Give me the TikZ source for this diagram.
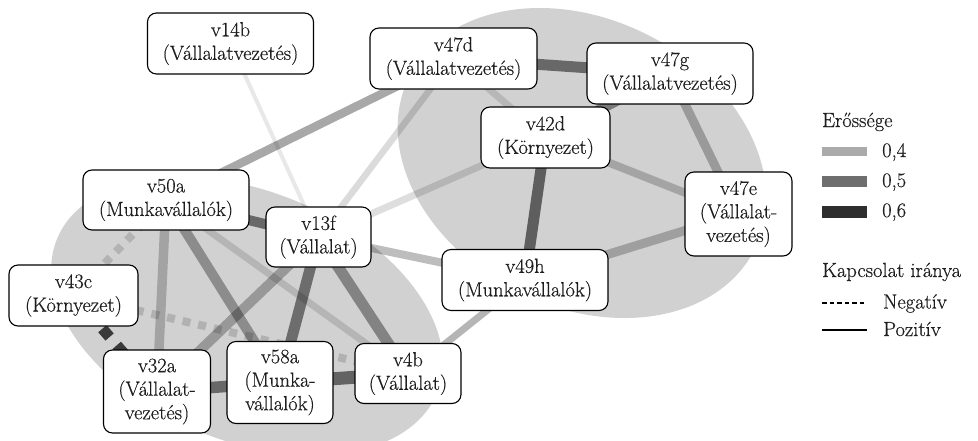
\documentclass[tikz,border=0pt]{standalone}
\usepackage{fontspec}
\newfontfamily\lblfont{Latin Modern Roman}[FakeBold=0.45]
\pgfdeclarelayer{blobs}
\pgfdeclarelayer{links}
\pgfsetlayers{blobs,links,main}
\definecolor{blobgray}{gray}{0.82}
\definecolor{leg4}{HTML}{AAAAAA}
\definecolor{leg5}{HTML}{6E6E6E}
\definecolor{leg6}{HTML}{2E2E2E}
\definecolor{inkc}{HTML}{1E1E1E}
\tikzset{
  txt/.style={font=\lblfont\fontsize{20.5}{23.5}\selectfont, text=inkc, inner sep=0pt},
  nd/.style={txt, draw=black, line width=1.1pt, fill=white, rounded corners=9pt, align=center},
  blob/.style={fill=blobgray},
  lnk/.style 2 args={draw=black, draw opacity=#2, line width=#1pt},
  lnkd/.style 2 args={draw=black, draw opacity=#2, line width=#1pt, dash pattern=on #1pt off #1pt},
  legtxt/.style={txt, anchor=base west}
}
\begin{document}
\begin{tikzpicture}[x=1pt,y=-1pt]
\useasboundingbox (0,0) rectangle (978,440);
\begin{pgfonlayer}{blobs}
\fill[white] (0,0) rectangle (978,440);
\fill[blob, shift={(247,316)}, rotate=-22] (0,0) ellipse [x radius=205pt, y radius=125pt];
\fill[blob, shift={(582,163)}, rotate=-26.5] (0,0) ellipse [x radius=193pt, y radius=144pt];
\end{pgfonlayer}

% nodes
\node[nd, minimum width=166, minimum height=61] (v14b) at (230.5,43.5) {v14b\\(Vállalatvezetés)};
\node[nd, minimum width=167, minimum height=61] (v47d) at (453.5,58.5) {v47d\\(Vállalatvezetés)};
\node[nd, minimum width=166, minimum height=61] (v47g) at (670,73.5) {v47g\\(Vállalatvezetés)};
\node[nd, minimum width=129, minimum height=61] (v42d) at (545.5,137.5) {v42d\\(Környezet)};
\node[nd, minimum width=107, minimum height=84] (v47e) at (738.5,214) {v47e\\(Vállalat-\\vezetés)};
\node[nd, minimum width=166, minimum height=61] (v49h) at (525,280) {v49h\\(Munkavállalók)};
\node[nd, minimum width=166, minimum height=60] (v50a) at (166,200) {v50a\\(Munkavállalók)};
\node[nd, minimum width=105, minimum height=60] (v13f) at (318.5,237) {v13f\\(Vállalat)};
\node[nd, minimum width=129, minimum height=61] (v43c) at (73.5,295.5) {v43c\\(Környezet)};
\node[nd, minimum width=107, minimum height=83] (v32a) at (157,391.5) {v32a\\(Vállalat-\\vezetés)};
\node[nd, minimum width=106, minimum height=82] (v58a) at (280,382.5) {v58a\\(Munka-\\vállalók)};
\node[nd, minimum width=106, minimum height=60] (v4b) at (408,373.5) {v4b\\(Vállalat)};

% links
\begin{pgfonlayer}{links}
\draw[lnk={4}{0.09}] (v14b.center) -- (v13f.center);
\draw[lnk={8.5}{0.34}] (v50a.center) -- (v47d.center);
\draw[lnk={6.5}{0.14}] (v47d.center) -- (v13f.center);
\draw[lnk={11}{0.5}] (v47d.center) -- (v47g.center);
\draw[lnk={7}{0.12}] (v47d.center) -- (v42d.center);
\draw[lnk={10}{0.42}] (v47g.center) -- (v42d.center);
\draw[lnk={9}{0.26}] (v47g.center) -- (v47e.center);
\draw[lnk={8}{0.21}] (v42d.center) -- (v47e.center);
\draw[lnk={11}{0.55}] (v42d.center) -- (v49h.center);
\draw[lnk={7}{0.13}] (v42d.center) -- (v13f.center);
\draw[lnk={9}{0.24}] (v49h.center) -- (v47e.center);
\draw[lnk={8}{0.26}] (v49h.center) -- (v13f.center);
\draw[lnk={7}{0.29}] (v4b.center) -- (v49h.center);
\draw[lnk={10}{0.5}] (v50a.center) -- (v13f.center);
\draw[lnkd={8}{0.14}] (v50a.center) -- (v43c.center);
\draw[lnk={9.5}{0.22}] (v50a.center) -- (v32a.center);
\draw[lnk={10}{0.33}] (v50a.center) -- (v58a.center);
\draw[lnk={7}{0.13}] (v50a.center) -- (v4b.center);
\draw[lnk={10}{0.27}] (v13f.center) -- (v32a.center);
\draw[lnk={11}{0.48}] (v13f.center) -- (v58a.center);
\draw[lnk={11}{0.37}] (v13f.center) -- (v4b.center);
\draw[lnkd={11}{0.72}] (v43c.center) -- (v32a.center);
\draw[lnkd={8}{0.15}] (v43c.center) -- (v4b.center);
\draw[lnk={11.5}{0.5}] (v32a.center) -- (v58a.center);
\draw[lnk={13}{0.52}] (v58a.center) -- (v4b.center);
\end{pgfonlayer}

% legend
\node[legtxt] (lgA) at (822,127) {Erőssége};
\fill[leg4] (822,147) rectangle (867,155.5);
\fill[leg5] (822,176) rectangle (867,187);
\fill[leg6] (822,205.5) rectangle (867,217.5);
\node[legtxt] (l4) at (882,157) {0,4};
\node[legtxt] (l5) at (882,187) {0,5};
\node[legtxt] (l6) at (882,217) {0,6};
\node[legtxt] (lgB) at (822,277) {Kapcsolat iránya};
\draw[line width=2pt, dash pattern=on 4.5pt off 3pt] (822,303) -- (867,303);
\draw[line width=2.3pt] (822,330) -- (867,330);
\node[legtxt] (ln) at (883,308.5) {Negatív};
\node[legtxt] (lp) at (883,336) {Pozitív};
\end{tikzpicture}
\end{document}
